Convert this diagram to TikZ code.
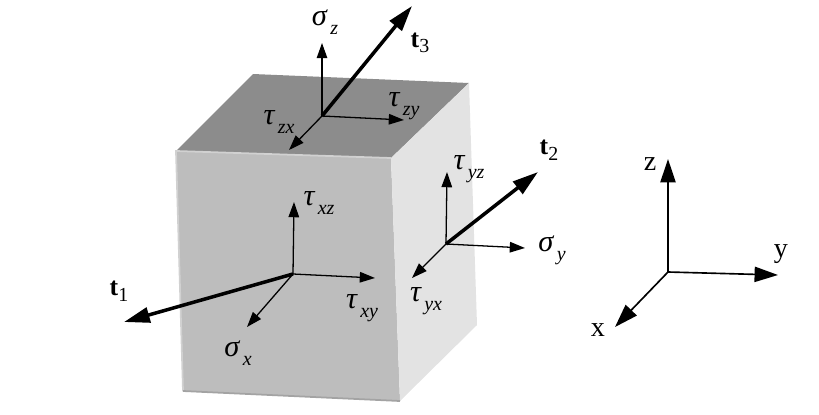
\documentclass[tikz,border=0pt]{standalone}
\usepackage{fontspec}
\setmainfont{Liberation Serif}
\usetikzlibrary{arrows.meta}
\newcommand{\stress}[2]{\fontsize{26}{26}\selectfont\textit{#1}\kern.08em\raisebox{-.3em}{\fontsize{17}{17}\selectfont\textit{#2}}}
\newcommand{\traction}[1]{\fontsize{22}{22}\selectfont\textbf{t}\raisebox{-.22em}{\fontsize{17}{17}\selectfont #1}}

\begin{document}
\begin{tikzpicture}[
  x=0.03cm, y=-0.03cm,
  thin arrow/.style={line width=1.1pt, -{Triangle[length=13pt,width=9pt]}},
  thick arrow/.style={line width=3pt, -{Triangle[length=22pt,width=13pt]}},
  axis arrow/.style={line width=1.4pt, -{Triangle[length=20pt,width=13pt]}},
  axis label/.style={font=\fontsize{24}{24}\selectfont, inner sep=0pt},
  label/.style={inner sep=0pt},
  ]
  \useasboundingbox (0,0) rectangle (819,414);
  % cube faces
  \coordinate (A) at (176,151);
  \coordinate (B) at (391,158);
  \coordinate (C) at (469,83);
  \coordinate (D) at (253,74);
  \coordinate (E) at (183,391);
  \coordinate (F) at (400,401);
  \coordinate (G) at (477,325);
  \fill[fill=black!45] (A) -- (B) -- (C) -- (D) -- cycle;
  \fill[fill=black!26] (A) -- (B) -- (F) -- (E) -- cycle;
  \fill[fill=black!11] (B) -- (C) -- (G) -- (F) -- cycle;
  \draw[black!18, line width=1.5pt] (E) -- (A) -- (B);
  \draw[black!36, line width=1.5pt] (E) -- (F);
  % top face
  \coordinate (Oz) at (322,116);
  \coordinate (Sz) at (322,43);
  \coordinate (Zy) at (404,120);
  \coordinate (Zx) at (289,150);
  \coordinate (T3) at (412,6);
  \draw[thin arrow] (Oz) -- (Sz);
  \draw[thin arrow] (Oz) -- (Zy);
  \draw[thin arrow] (Oz) -- (Zx);
  \draw[thick arrow] (Oz) -- (T3);
  \node[label] (sigmaz) at (325,22) {\stress{σ}{z}};
  \node[label] (tauzy) at (404,106) {\stress{τ}{zy}};
  \node[label] (tauzx) at (279,122) {\stress{τ}{zx}};
  \node[label] (t3) at (420,43) {\traction{3}};
  % front face
  \coordinate (Ox) at (293,274);
  \coordinate (Xz) at (294,202);
  \coordinate (Xy) at (375,278);
  \coordinate (Sx) at (247,327);
  \coordinate (T1) at (124,322);
  \draw[thin arrow] (Ox) -- (Xz);
  \draw[thin arrow] (Ox) -- (Xy);
  \draw[thin arrow] (Ox) -- (Sx);
  \draw[thick arrow] (Ox) -- (T1);
  \node[label] (tauxz) at (319,203) {\stress{τ}{xz}};
  \node[label] (tauxy) at (362,308) {\stress{τ}{xy}};
  \node[label] (sigmax) at (238,353) {\stress{σ}{x}};
  \node[label] (t1) at (119,291) {\traction{1}};
  % right face
  \coordinate (Oy) at (446,244);
  \coordinate (Yz) at (447,172);
  \coordinate (Sy) at (525,248);
  \coordinate (Yx) at (412,278);
  \coordinate (T2) at (538,172);
  \draw[thin arrow] (Oy) -- (Yz);
  \draw[thin arrow] (Oy) -- (Sy);
  \draw[thin arrow] (Oy) -- (Yx);
  \draw[thick arrow] (Oy) -- (T2);
  \node[label] (tauyz) at (469,169) {\stress{τ}{yz}};
  \node[label] (sigmay) at (552,250) {\stress{σ}{y}};
  \node[label] (tauyx) at (426,301) {\stress{τ}{yx}};
  \node[label] (t2) at (549,150) {\traction{2}};
  % reference axes
  \coordinate (O) at (668,272);
  \coordinate (Z) at (668,159);
  \coordinate (Y) at (778,275);
  \coordinate (X) at (615,327);
  \draw[axis arrow] (O) -- (Z);
  \draw[axis arrow] (O) -- (Y);
  \draw[axis arrow] (O) -- (X);
  \node[axis label] (zlabel) at (650,164) {z};
  \node[axis label] (ylabel) at (781,254) {y};
  \node[axis label] (xlabel) at (598,330) {x};
\end{tikzpicture}
\end{document}
